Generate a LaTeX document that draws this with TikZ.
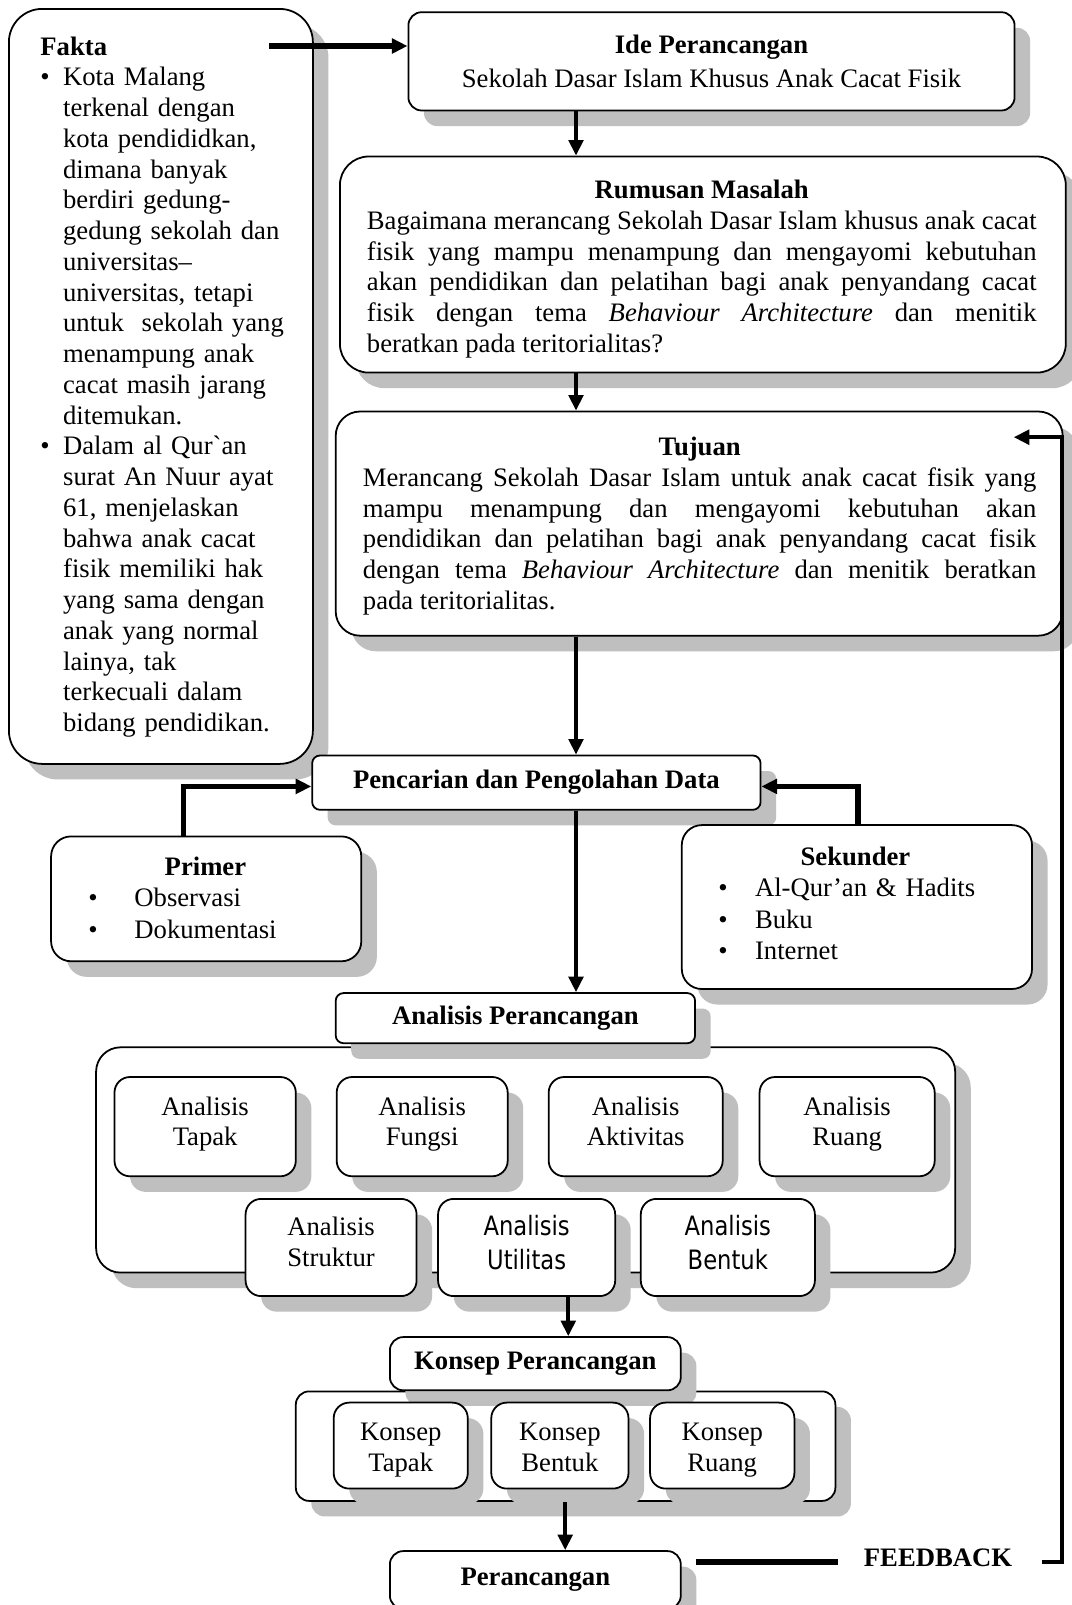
\documentclass[tikz,border=0pt]{standalone}
\usepackage{fontspec}
\setmainfont{Liberation Serif}
\newfontfamily\utilfont{DejaVu Sans}[FakeStretch=0.85]
\usetikzlibrary{arrows.meta, shadows}

\newdimen\pxu \pxu=0.45pt
\newcommand\factbullet{\makebox[22.7\pxu][l]{\textbullet}}
\newcommand\factindent{\hspace*{22.7\pxu}}
\newcommand\primerbullet{\makebox[46\pxu][l]{\textbullet}}
\newcommand\sekunderbullet{\makebox[36.6\pxu][l]{\textbullet}}
\newcommand\boxtitle[2]{\hbox to #1\pxu{\hfil\textbf{#2}\hfil}}
\hyphenpenalty=10000 \exhyphenpenalty=10000

\tikzset{
  roundbox/.style={draw, line width=0.8pt, fill=white, inner sep=0pt, anchor=north west,
    rounded corners=#1,
    drop shadow={opacity=1, fill=black!25, shadow xshift=7pt, shadow yshift=-7pt}},
  roundbox/.default=6pt,
  part/.style={roundbox=7pt, align=center},
  anapart/.style={part, execute at begin node=\strut,
    execute at end node={\rule[-4.9pt]{0pt}{1pt}}},
  konpart/.style={part, text height=23.5pt, text depth=0pt},
  boxtext/.style={inner sep=0pt, anchor=base west, align=justify},
  flow/.style={line width=1.8pt, ->},
  flowthick/.style={line width=2.3pt, ->},
  fbline/.style={line width=2.3pt},
}

\begin{document}
\begin{tikzpicture}[x=0.45pt, y=-0.45pt, >={Triangle[length=7pt,width=6.5pt]},
    font=\fontsize{12}{13.84}\selectfont]
    \fill[white] (0,0) rectangle (1071,1605);
    \useasboundingbox (0,0) rectangle (1071,1605);

    %facts on the left
    \node[roundbox=15pt, minimum width=304\pxu, minimum height=755\pxu] (fakta) at (8,8) {};
    \node[boxtext, text width=265\pxu, align=left] (faktatext) at (40,55) {\textbf{Fakta}\\
      \factbullet Kota Malang\\
      \factindent terkenal dengan\\
      \factindent kota pendididkan,\\
      \factindent dimana banyak\\
      \factindent berdiri gedung-\\
      \factindent gedung sekolah dan\\
      \factindent universitas--\\
      \factindent universitas, tetapi\\
      \factindent untuk\ \ sekolah yang\\
      \factindent menampung anak\\
      \factindent cacat masih jarang\\
      \factindent ditemukan.\\
      \factbullet Dalam al Qur\textasciigrave an\\
      \factindent surat An Nuur ayat\\
      \factindent 61, menjelaskan\\
      \factindent bahwa anak cacat\\
      \factindent fisik memiliki hak\\
      \factindent yang sama dengan\\
      \factindent anak yang normal\\
      \factindent lainya, tak\\
      \factindent terkecuali dalam\\
      \factindent bidang pendidikan.};

    %main column
    \node[roundbox=6pt, minimum width=606.2\pxu, minimum height=98.3\pxu, align=center] (ide)
      at (407.5,11.3) {\textbf{Ide Perancangan}\\[1.5pt] Sekolah Dasar Islam Khusus Anak Cacat Fisik};

    \node[roundbox=13pt, minimum width=725.9\pxu, minimum height=216.1\pxu] (rumusan) at (339,155.6) {};
    \node[boxtext, text width=669.7\pxu] (rumusantext) at (366.5,198.5)
      {\noindent\boxtitle{669.7}{Rumusan Masalah}
      Bagaimana merancang Sekolah Dasar Islam khusus anak cacat\linebreak
      fisik yang mampu menampung dan mengayomi kebutuhan\linebreak
      akan pendidikan dan pelatihan bagi anak penyandang cacat\linebreak
      fisik dengan tema \textit{Behaviour Architecture} dan menitik\linebreak
      beratkan pada teritorialitas?};

    \node[roundbox=11pt, minimum width=727\pxu, minimum height=224.2\pxu] (tujuan) at (334.8,410.6) {};
    \node[boxtext, text width=673.5\pxu] (tujuantext) at (362.5,455.5)
      {\noindent\boxtitle{673.5}{Tujuan}
      Merancang Sekolah Dasar Islam untuk anak cacat fisik yang\linebreak
      mampu menampung dan mengayomi kebutuhan akan\linebreak
      pendidikan dan pelatihan bagi anak penyandang cacat fisik\linebreak
      dengan tema \textit{Behaviour Architecture} dan menitik beratkan\linebreak
      pada teritorialitas.};

    \node[roundbox=3.5pt, minimum width=448.4\pxu, minimum height=54.3\pxu] (pencarian)
      at (311.3,754.6) {\textbf{Pencarian dan Pengolahan Data}};

    %data sources
    \node[roundbox=9pt, minimum width=310.2\pxu, minimum height=124.9\pxu] (primer) at (50.2,835.5) {};
    \node[boxtext, text width=260\pxu, align=left, font=\fontsize{12}{14.2}\selectfont]
      (primertext) at (88,875)
      {\boxtitle{234}{Primer}
      \primerbullet Observasi\\
      \primerbullet Dokumentasi};

    \node[roundbox=9pt, minimum width=350.2\pxu, minimum height=163.9\pxu] (sekunder) at (680.9,824.2) {};
    \node[boxtext, text width=300\pxu, align=left, font=\fontsize{12}{14.2}\selectfont]
      (sekundertext) at (718,865)
      {\boxtitle{274}{Sekunder}
      \sekunderbullet Al-Qur’an \& Hadits\\
      \sekunderbullet Buku\\
      \sekunderbullet Internet};

    %analysis group
    \node[roundbox=11pt, minimum width=859.1\pxu, minimum height=225.3\pxu] (analisis) at (95.2,1046.4) {};
    \node[roundbox=3.5pt, minimum width=359.4\pxu, minimum height=50.1\pxu] (analisishead)
      at (334.8,992.2) {\textbf{Analisis Perancangan}};
    \node[anapart, minimum width=181.3\pxu, minimum height=99.3\pxu] (tapak) at (113.6,1076.1) {Analisis\\ Tapak};
    \node[anapart, minimum width=171\pxu, minimum height=99.3\pxu] (fungsi) at (335.8,1076.1) {Analisis\\ Fungsi};
    \node[anapart, minimum width=174\pxu, minimum height=99.3\pxu] (aktivitas) at (547.8,1076.1) {Analisis\\ Aktivitas};
    \node[anapart, minimum width=175.1\pxu, minimum height=99.3\pxu] (ruang) at (758.7,1076.1) {Analisis\\ Ruang};
    \node[anapart, minimum width=171\pxu, minimum height=97.2\pxu] (struktur) at (244.7,1198) {Analisis\\ Struktur};
    \node[anapart, minimum width=177.1\pxu, minimum height=97.2\pxu,
      font=\utilfont\fontsize{12}{15.2}\selectfont] (utilitas) at (437.2,1198) {Analisis\\ Utilitas};
    \node[anapart, minimum width=174.1\pxu, minimum height=97.2\pxu,
      font=\utilfont\fontsize{12}{15.2}\selectfont] (bentuk) at (639.9,1198) {Analisis\\ Bentuk};

    %concept group
    \node[roundbox=6pt, minimum width=539.6\pxu, minimum height=109.5\pxu] (konsep) at (294.9,1390.5) {};
    \node[roundbox=6pt, minimum width=290.9\pxu, minimum height=53.2\pxu] (konsephead)
      at (389,1336.2) {\textbf{Konsep Perancangan}};
    \node[konpart, minimum width=134.1\pxu, minimum height=86\pxu] (konseptapak) at (332.8,1401.7) {Konsep\\ Tapak};
    \node[konpart, minimum width=137.2\pxu, minimum height=86\pxu] (konsepbentuk) at (490.4,1401.7) {Konsep\\ Bentuk};
    \node[konpart, minimum width=144.3\pxu, minimum height=86\pxu] (konsepruang) at (649.2,1401.7) {Konsep\\ Ruang};

    \node[roundbox=6pt, minimum width=290.9\pxu, minimum height=57.8\pxu] (perancangan)
      at (389,1550.2) {\textbf{Perancangan}};
    \node[inner sep=0pt] (feedback) at (938,1558) {\textbf{FEEDBACK}};

    % define the links
    \coordinate (faktaout) at (269,46);
    \coordinate (spine) at (576,0);
    \coordinate (primerout) at (183.3,0);
    \coordinate (sekunderout) at (858,0);
    \coordinate (dataline) at (0,786.4);
    \coordinate (konsepin) at (568.3,0);
    \coordinate (rancangin) at (565.2,0);
    \coordinate (fbstart) at (696,1562);
    \coordinate (fbturn) at (1061.8,1562);
    \coordinate (fbin) at (1013.7,437.2);

    \draw[flowthick] (faktaout) -- (faktaout -| ide.west);
    \draw[flow] (ide.south -| spine) -- (rumusan.north -| spine);
    \draw[flow] (rumusan.south -| spine) -- (tujuan.north -| spine);
    \draw[flow] (tujuan.south -| spine) -- (pencarian.north -| spine);
    \draw[flowthick] (primer.north -| primerout) |- (pencarian.west |- dataline);
    \draw[flowthick] (sekunder.north -| sekunderout) |- (pencarian.east |- dataline);
    \draw[flow] (pencarian.south -| spine) -- (analisishead.north -| spine);
    \draw[flow] (utilitas.south -| konsepin) -- (konsephead.north -| konsepin);
    \draw[flow] (konsep.south -| rancangin) -- (perancangan.north -| rancangin);
    \draw[fbline, shorten >=25\pxu] (fbstart) -- (feedback.west |- fbturn);
    \draw[flow, shorten <=29\pxu] (feedback.east |- fbturn) -- (fbturn) |- (fbin);
\end{tikzpicture}
\end{document}
